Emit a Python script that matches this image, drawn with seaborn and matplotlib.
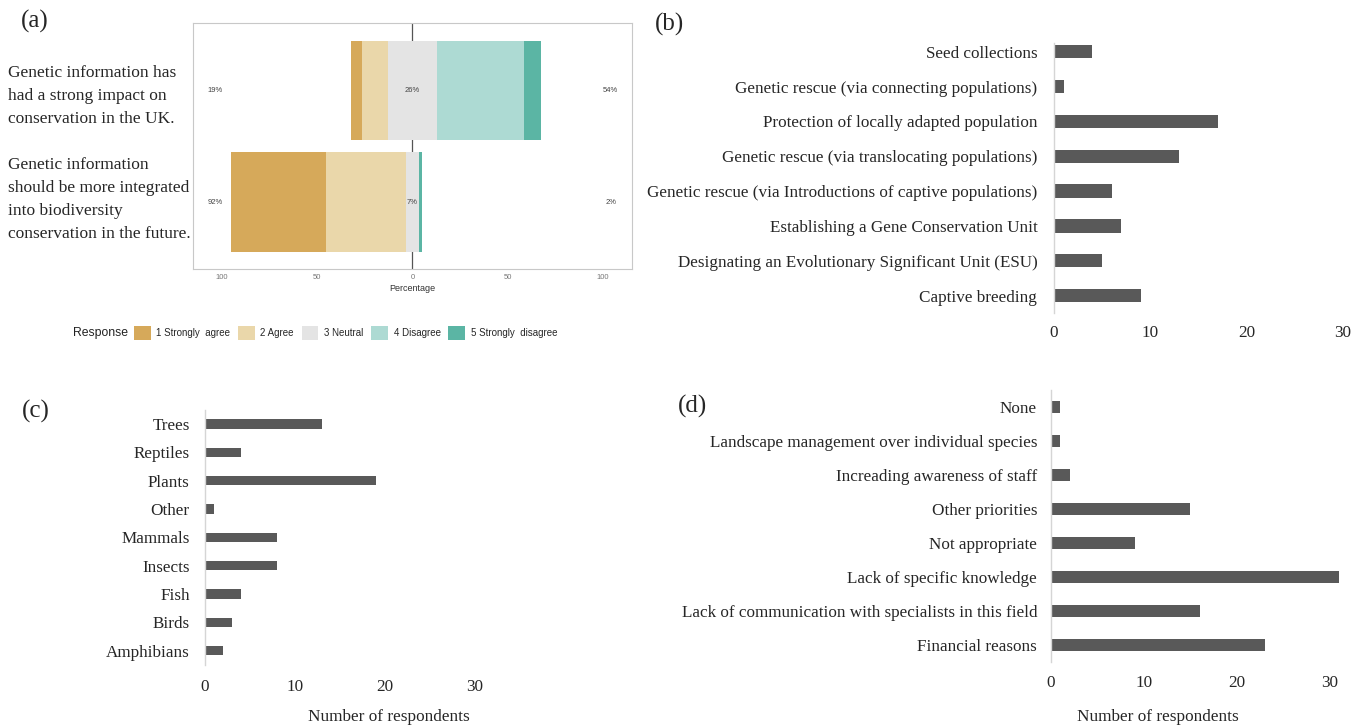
import matplotlib
matplotlib.use("Agg")
import matplotlib.pyplot as plt
from matplotlib.patches import Patch
import seaborn as sns
import numpy as np

# --- data: panel (a) likert responses (percent of respondents) ---
statements = ["Genetic information has\nhad a strong impact on\nconservation in the UK.",
              "Genetic information\nshould be more integrated\ninto biodiversity\nconservation in the future."]
responses = ["1 Strongly  agree", "2 Agree", "3 Neutral", "4 Disagree", "5 Strongly  disagree"]
strongly_agree = [5.5, 49.5]
agree = [13.5, 42.0]
neutral = [26.0, 7.0]
disagree = [45.5, 0.0]
strongly_disagree = [9.0, 1.5]
likert_colors = ["#D6A95A", "#EAD7AA", "#E4E4E4", "#ADDAD3", "#5BB5A4"]

# --- data: panel (b) ---
measures = ["Seed collections",
            "Genetic rescue (via connecting populations)",
            "Protection of locally adapted population",
            "Genetic rescue (via translocating populations)",
            "Genetic rescue (via Introductions of captive populations)",
            "Establishing a Gene Conservation Unit",
            "Designating an Evolutionary Significant Unit (ESU)",
            "Captive breeding"]
measure_counts = [4, 1, 17, 13, 6, 7, 5, 9]

# --- data: panel (c) ---
taxa = ["Trees", "Reptiles", "Plants", "Other", "Mammals", "Insects", "Fish", "Birds", "Amphibians"]
taxa_counts = [13, 4, 19, 1, 8, 8, 4, 3, 2]

# --- data: panel (d) ---
barriers = ["None",
            "Landscape management over individual species",
            "Increading awareness of staff",
            "Other priorities",
            "Not appropriate",
            "Lack of specific knowledge",
            "Lack of communication with specialists in this field",
            "Financial reasons"]
barrier_counts = [1, 1, 2, 15, 9, 31, 16, 23]

sns.set_style("white")
plt.rcParams['font.family'] = ['Liberation Serif', 'DejaVu Serif']
SANS = ['Liberation Sans', 'DejaVu Sans']
BAR = "#595959"

fig = plt.figure(figsize=(13.67, 7.25), dpi=100)

# ---------------- panel (a): diverging likert bars ----------------
ax_a = fig.add_axes([0.1414, 0.6286, 0.3207, 0.3393])
sa = np.array(strongly_agree)
ag = np.array(agree)
ne = np.array(neutral)
di = np.array(disagree)
sd = np.array(strongly_disagree)
ypos = np.arange(len(statements))
starts = -(ne / 2 + ag + sa)
segments = [sa, ag, ne, di, sd]
left = starts.copy()
for seg, col, lab in zip(segments, likert_colors, responses):
    ax_a.barh(ypos, seg, left=left, height=0.89, color=col, label=lab,
              linewidth=0, zorder=2)
    left = left + seg
ax_a.axvline(0, color="#555555", lw=0.9, zorder=1)

for i in ypos:
    ax_a.text(-103.5, i, f"{int(np.round(sa[i] + ag[i]))}%", ha="center", va="center",
              fontsize=5.5, color="#444444", family=SANS)
    ax_a.text(0, i, f"{int(np.round(ne[i]))}%", ha="center", va="center",
              fontsize=5.5, color="#444444", family=SANS, zorder=3)
    ax_a.text(104, i, f"{int(np.round(di[i] + sd[i]))}%", ha="center", va="center",
              fontsize=5.5, color="#444444", family=SANS)

ax_a.set_xlim(-115, 115)
ax_a.set_ylim(1.6, -0.6)
ax_a.set_xticks([-100, -50, 0, 50, 100])
ax_a.set_xticklabels(["100", "50", "0", "50", "100"], family=SANS, fontsize=5.5, color="#777777")
ax_a.set_yticks([])
ax_a.tick_params(axis="x", length=0, pad=3.5)
ax_a.set_xlabel("Percentage", family=SANS, fontsize=6.5, labelpad=2, color="#333333")
for s in ax_a.spines.values():
    s.set_color("#C8C8C8")
    s.set_linewidth(0.8)

fig.text(0.006, 1 - 96 / 725, statements[0], ha="left", va="center", fontsize=12.5, linespacing=1.56)
fig.text(0.006, 1 - 199.5 / 725, statements[1], ha="left", va="center", fontsize=12.5, linespacing=1.56)

fig.text(73 / 1367, 1 - 333 / 725, "Response", ha="left", va="center", fontsize=8.8,
         family=SANS, color="#222222")
handles = [Patch(facecolor=c, edgecolor="none") for c in likert_colors]
fig.legend(handles, responses, loc="center left", bbox_to_anchor=(134 / 1367, 1 - 333 / 725),
           ncol=5, frameon=False, prop={"family": SANS, "size": 7},
           handlelength=1.7, handleheight=1.9, handletextpad=0.6, columnspacing=0.8,
           borderpad=0, borderaxespad=0)


def count_panel(rect, labels, counts, xmax, bar_h, ylim, ypad, xpad, fsize=12.3):
    ax = fig.add_axes(rect)
    sns.barplot(x=counts, y=labels, orient="h", color=BAR, saturation=1,
                width=bar_h, linewidth=0, ax=ax)
    ax.set_xlim(0, xmax)
    ax.set_ylim(*ylim)
    ax.set_xticks([0, 10, 20, 30])
    ax.tick_params(axis="both", length=0, labelsize=fsize)
    ax.tick_params(axis="y", pad=ypad)
    ax.tick_params(axis="x", pad=xpad)
    sns.despine(ax=ax, bottom=True)
    ax.spines["left"].set_color("#D5D5D5")
    ax.spines["left"].set_linewidth(1.0)
    ax.set_ylabel("")
    ax.set_xlabel("")
    return ax


# ---------------- panel (b) ----------------
count_panel([0.7710, 0.5683, 0.2114, 0.3724], measures, measure_counts, 30, 0.38,
            (7.5, -0.25), ypad=12, xpad=9)

# ---------------- panel (c) ----------------
ax_c = count_panel([0.1500, 0.0828, 0.1975, 0.3517], taxa, taxa_counts, 30, 0.33,
                   (8.5, -0.5), ypad=11, xpad=10)
ax_c.set_xlabel("Number of respondents", fontsize=12.4)
ax_c.xaxis.set_label_coords(0.68, -0.172)

# ---------------- panel (d) ----------------
ax_d = count_panel([0.7688, 0.0869, 0.2177, 0.3752], barriers, barrier_counts, 32, 0.33,
                   (7.5, -0.5), ypad=10, xpad=9.5)
ax_d.set_xlabel("Number of respondents", fontsize=12.4)
ax_d.xaxis.set_label_coords(0.36, -0.173)

# panel letters
fig.text(21 / 1367, 1 - 21 / 725, "(a)", ha="left", va="center", fontsize=18)
fig.text(655 / 1367, 1 - 24 / 725, "(b)", ha="left", va="center", fontsize=18)
fig.text(22 / 1367, 1 - 411 / 725, "(c)", ha="left", va="center", fontsize=18)
fig.text(678 / 1367, 1 - 406 / 725, "(d)", ha="left", va="center", fontsize=18)

fig.savefig("out.png", dpi=100)
